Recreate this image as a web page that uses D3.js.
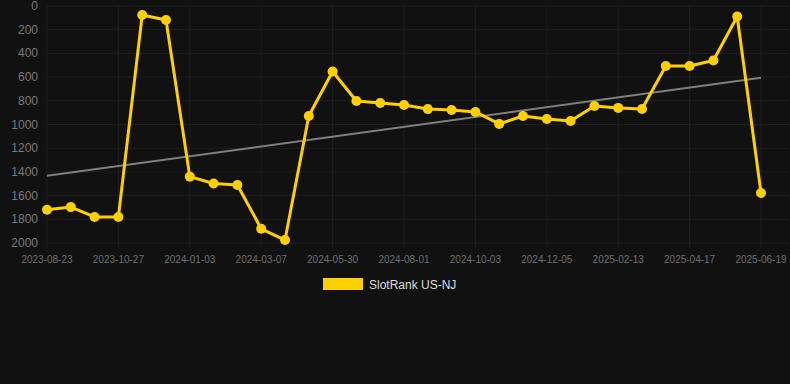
<!DOCTYPE html>
<html>
<head>
<meta charset="utf-8">
<script src="https://cdn.jsdelivr.net/npm/d3@7"></script>
<style>
  body { margin: 0; background: #111111; }
  svg { display: block; font-family: "Liberation Sans", Arial, sans-serif; }
</style>
</head>
<body>
<svg width="790" height="384"></svg>
<script>
// dates on the x axis (one point every ~3 weeks, labels every 3rd)
const dates = [
  '2023-08-23', '2023-09-13', '2023-10-05', '2023-10-27', '2023-11-17', '2023-12-11',
  '2024-01-03', '2024-01-24', '2024-02-14', '2024-03-07', '2024-03-28', '2024-04-30',
  '2024-05-30', '2024-06-20', '2024-07-11', '2024-08-01', '2024-08-22', '2024-09-12',
  '2024-10-03', '2024-10-24', '2024-11-14', '2024-12-05', '2024-12-26', '2025-01-20',
  '2025-02-13', '2025-03-06', '2025-03-27', '2025-04-17', '2025-05-08', '2025-05-29',
  '2025-06-19'
];
const rank = [
  1720, 1697, 1780, 1780, 76, 118,
  1440, 1498, 1510, 1880, 1975, 928,
  553, 802, 819, 835, 870, 878,
  894, 995, 928, 953, 970, 844,
  860, 869, 506, 506, 460, 89,
  1578
];
const yTicks = [0, 200, 400, 600, 800, 1000, 1200, 1400, 1600, 1800, 2000];
const seriesName = 'SlotRank US-NJ';

const svg = d3.select('svg');
const plotLeft = 47, plotRight = 761, gridRight = 790, plotTop = 6, plotBottom = 243;

const x = d3.scalePoint().domain(dates).range([plotLeft, plotRight]);
const y = d3.scaleLinear().domain([0, 2000]).range([plotTop, plotBottom]); // reversed: rank 0 on top

// horizontal grid
svg.append('g')
  .selectAll('line')
  .data(yTicks)
  .enter()
  .append('line')
  .attr('x1', plotLeft)
  .attr('x2', gridRight)
  .attr('y1', d => y(d))
  .attr('y2', d => y(d))
  .attr('stroke', '#1f1f1f')
  .attr('stroke-width', 1);

// vertical grid at labelled dates
const labelled = dates.filter((d, i) => i % 3 === 0);
svg.append('g')
  .selectAll('line')
  .data(labelled)
  .enter()
  .append('line')
  .attr('x1', d => x(d))
  .attr('x2', d => x(d))
  .attr('y1', plotTop)
  .attr('y2', plotBottom + 5)
  .attr('stroke', '#1f1f1f')
  .attr('stroke-width', 1);

// y axis labels
svg.append('g')
  .selectAll('text')
  .data(yTicks)
  .enter()
  .append('text')
  .attr('x', 38)
  .attr('y', d => y(d) + 4)
  .attr('text-anchor', 'end')
  .attr('fill', '#7a7a7a')
  .style('font-size', '12px')
  .text(d => d);

// x axis labels
svg.append('g')
  .selectAll('text')
  .data(labelled)
  .enter()
  .append('text')
  .attr('x', d => x(d))
  .attr('y', 263)
  .attr('text-anchor', 'middle')
  .attr('fill', '#6e6e6e')
  .style('font-size', '10px')
  .text(d => d);

// trend line (least squares over the index)
const n = rank.length;
const idx = d3.range(n);
const mx = d3.mean(idx), my = d3.mean(rank);
const slope = d3.sum(idx, i => (i - mx) * (rank[i] - my)) / d3.sum(idx, i => (i - mx) * (i - mx));
const icpt = my - slope * mx;
svg.append('line')
  .attr('x1', x(dates[0]))
  .attr('y1', y(icpt))
  .attr('x2', x(dates[n - 1]))
  .attr('y2', y(icpt + slope * (n - 1)))
  .attr('stroke', '#7f7f7f')
  .attr('stroke-width', 2);

// series line
const line = d3.line()
  .x((d, i) => x(dates[i]))
  .y(d => y(d));

svg.append('path')
  .datum(rank)
  .attr('d', line)
  .attr('fill', 'none')
  .attr('stroke', '#ffd000')
  .attr('stroke-width', 3)
  .attr('stroke-linejoin', 'round');

svg.append('g')
  .selectAll('circle')
  .data(rank)
  .enter()
  .append('circle')
  .attr('cx', (d, i) => x(dates[i]))
  .attr('cy', d => y(d))
  .attr('r', 5)
  .attr('fill', '#ffd000');

// legend
svg.append('rect')
  .attr('x', 323)
  .attr('y', 278)
  .attr('width', 40)
  .attr('height', 12)
  .attr('fill', '#ffd000');
svg.append('text')
  .attr('x', 369)
  .attr('y', 288.5)
  .attr('fill', '#dddddd')
  .style('font-size', '12px')
  .text(seriesName);
</script>
</body>
</html>
